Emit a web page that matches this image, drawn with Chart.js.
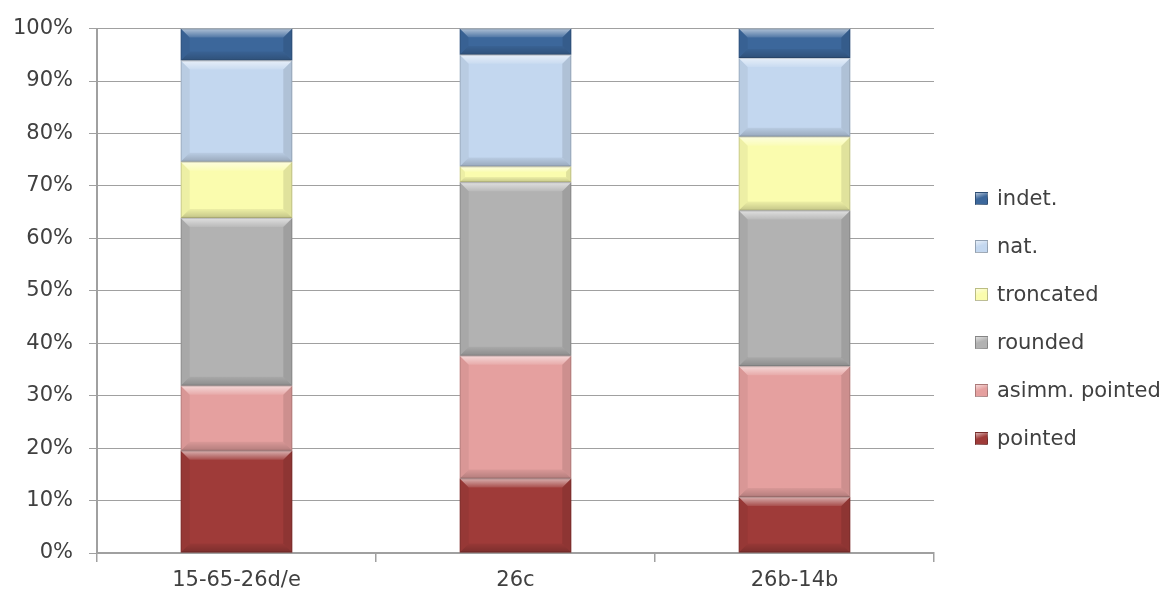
<!DOCTYPE html>
<html lang="en">
<head>
  <meta charset="UTF-8">
  <title>Tip shape by sample</title>
  <script src="https://cdn.jsdelivr.net/npm/chart.js"></script>
  <style>
    body { margin: 0; background: #fff; }
    #wrap { position: relative; width: 1167px; height: 607px; }
    #legend { position: absolute; left: 975px; top: 0; font-family: 'DejaVu Sans', sans-serif; font-size: 21px; color: #404040; }
    .item { position: absolute; left: 0; white-space: nowrap; height: 24px; line-height: 24px; }
    .box { display: inline-block; width: 13px; height: 13px; margin-right: 9px; vertical-align: 0px; box-sizing: border-box; }
  </style>
</head>
<body>
<div id="wrap">
  <canvas id="shapeChart" width="1167" height="607"></canvas>
  <div id="legend"></div>
</div>
<script>
  const samples = ['15-65-26d/e', '26c', '26b-14b'];

  // percentages, stacked from the bottom up
  const pointed   = [19.5, 14.2, 10.7];
  const asimm     = [12.4, 23.4, 24.9];
  const rounded   = [32.0, 33.1, 29.7];
  const troncated = [10.7,  3.0, 14.1];
  const nat       = [19.3, 21.3, 15.0];
  const indet     = [ 6.1,  5.0,  5.6];

  const series = [
    { label: 'pointed',        data: pointed,   color: '#9f3b39' },
    { label: 'asimm. pointed', data: asimm,     color: '#e5a09f' },
    { label: 'rounded',        data: rounded,   color: '#b2b2b2' },
    { label: 'troncated',      data: troncated, color: '#fafcae' },
    { label: 'nat.',           data: nat,       color: '#c3d7ef' },
    { label: 'indet.',         data: indet,     color: '#3c679b' },
  ];

  // fake the office "bevel" look on each bar segment
  const bevel = {
    id: 'bevel',
    afterDatasetsDraw(chart) {
      const ctx = chart.ctx;
      chart.data.datasets.forEach((ds, i) => {
        chart.getDatasetMeta(i).data.forEach(bar => {
          const l = bar.x - bar.width / 2, r = bar.x + bar.width / 2;
          const t = Math.min(bar.y, bar.base), b = Math.max(bar.y, bar.base);
          const h = b - t;
          const d = Math.min(9, h / 3);
          ctx.save();
          // top highlight
          let g = ctx.createLinearGradient(0, t, 0, t + d);
          g.addColorStop(0, 'rgba(255,255,255,0.6)');
          g.addColorStop(1, 'rgba(255,255,255,0.1)');
          ctx.fillStyle = g;
          ctx.beginPath();
          ctx.moveTo(l, t); ctx.lineTo(r, t); ctx.lineTo(r - d, t + d); ctx.lineTo(l + d, t + d);
          ctx.closePath(); ctx.fill();
          // bottom shade
          g = ctx.createLinearGradient(0, b - d, 0, b);
          g.addColorStop(0, 'rgba(0,0,0,0.05)');
          g.addColorStop(1, 'rgba(0,0,0,0.22)');
          ctx.fillStyle = g;
          ctx.beginPath();
          ctx.moveTo(l, b); ctx.lineTo(r, b); ctx.lineTo(r - d, b - d); ctx.lineTo(l + d, b - d);
          ctx.closePath(); ctx.fill();
          // sides
          ctx.fillStyle = 'rgba(0,0,0,0.05)';
          ctx.beginPath();
          ctx.moveTo(l, t); ctx.lineTo(l + d, t + d); ctx.lineTo(l + d, b - d); ctx.lineTo(l, b);
          ctx.closePath(); ctx.fill();
          ctx.fillStyle = 'rgba(0,0,0,0.1)';
          ctx.beginPath();
          ctx.moveTo(r, t); ctx.lineTo(r - d, t + d); ctx.lineTo(r - d, b - d); ctx.lineTo(r, b);
          ctx.closePath(); ctx.fill();
          ctx.strokeStyle = 'rgba(0,0,0,0.15)';
          ctx.lineWidth = 1;
          ctx.strokeRect(l + 0.5, t + 0.5, r - l - 1, h - 1);
          ctx.restore();
        });
      });
    }
  };

  Chart.defaults.font.family = "'DejaVu Sans', sans-serif";
  Chart.defaults.font.size = 21;
  Chart.defaults.color = '#404040';

  const chart = new Chart(document.getElementById('shapeChart'), {
    type: 'bar',
    data: {
      labels: samples,
      datasets: series.map(s => ({
        label: s.label,
        data: s.data,
        backgroundColor: s.color,
        borderWidth: 0,
        barPercentage: 0.4,
        categoryPercentage: 1,
      })),
    },
    options: {
      responsive: false,
      animation: false,
      layout: { padding: { left: 0, top: 24, right: 233, bottom: 0 } },
      plugins: { legend: { display: false }, tooltip: { enabled: false } },
      scales: {
        x: {
          stacked: true,
          grid: { drawOnChartArea: false, color: '#a0a0a0', tickLength: 9, lineWidth: 1.5 },
          border: { color: '#a0a0a0', width: 2 },
          ticks: { padding: 6 },
          afterFit: s => { s.height = 54; },
        },
        y: {
          stacked: true,
          min: 0,
          max: 100,
          ticks: { stepSize: 10, padding: 16, callback: v => v + '%' },
          grid: { color: '#a0a0a0', tickLength: 8, lineWidth: 1 },
          border: { color: '#a0a0a0', width: 2 },
          afterFit: s => { s.width = 97; },
        },
      },
    },
    plugins: [bevel],
  });

  // legend on the right, top entry first
  const legend = document.getElementById('legend');
  series.slice().reverse().forEach((s, i) => {
    const item = document.createElement('div');
    item.className = 'item';
    item.style.top = (186 + i * 48) + 'px';
    const box = document.createElement('span');
    box.className = 'box';
    box.style.background = 'linear-gradient(160deg, rgba(255,255,255,0.6), rgba(255,255,255,0) 45%), ' + s.color;
    box.style.border = '1px solid rgba(0,0,0,0.25)';
    item.appendChild(box);
    item.appendChild(document.createTextNode(s.label));
    legend.appendChild(item);
  });
</script>
</body>
</html>
